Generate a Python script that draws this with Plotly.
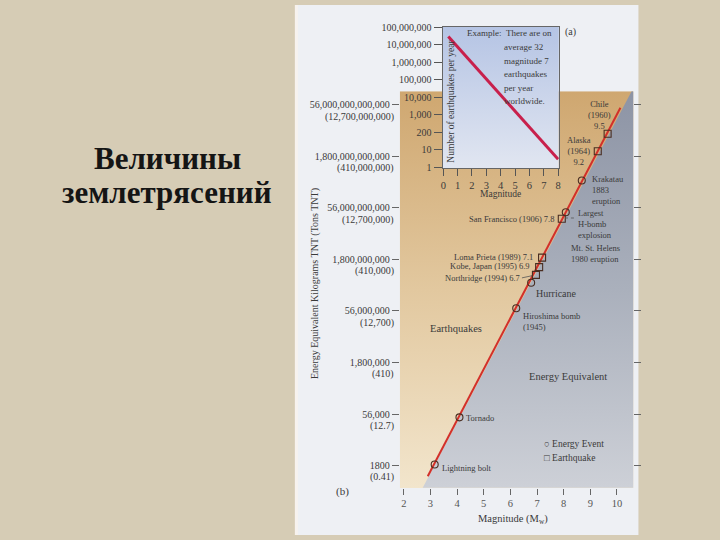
import math
import plotly.graph_objects as go

# ---------------- data ----------------
# main chart (b): magnitude vs energy equivalent
mag_ticks = [2, 3, 4, 5, 6, 7, 8, 9, 10]
energy_tick_vals = [1.8e3, 5.6e4, 1.8e6, 5.6e7, 1.8e9, 5.6e10, 1.8e12, 5.6e13]
energy_tick_kg = ["1800", "56,000", "1,800,000", "56,000,000", "1,800,000,000",
                  "56,000,000,000", "1,800,000,000,000", "56,000,000,000,000"]
energy_tick_tons = ["(0.41)", "(12.7)", "(410)", "(12,700)", "(410,000)",
                    "(12,700,000)", "(410,000,000)", "(12,700,000,000)"]

line_mag = [2.90, 10.13]
line_energy = [8.7e2, 4.6e13]

boundary_mag = [2.71, 10.55]          # edge of the grey "energy equivalent" zone
boundary_energy = [4.0e2, 1.38e14]

event_names = ["Lightning bolt", "Tornado", "Hiroshima bomb<br>(1945)", "Hurricane",
               "Northridge (1994) 6.7", "Kobe, Japan (1995) 6.9", "Loma Prieta (1989) 7.1",
               "San Francisco (1906) 7.8", "Largest<br>H-bomb<br>explosion",
               "Mt. St. Helens<br>1980 eruption", "Krakatau<br>1883<br>eruption",
               "Alaska<br>(1964)<br>9.2", "Chile<br>(1960)<br>9.5"]
event_mag = [3.16, 4.09, 6.22, 6.78, 6.96, 7.08, 7.19, 7.93, 8.08, 8.01, 8.68, 9.28, 9.65]
event_energy = [1.9e3, 4.5e4, 6.7e7, 3.7e8, 6.3e8, 1.06e9, 2.0e9, 2.7e10, 4.2e10, 2.85e10,
                3.5e11, 2.5e12, 8.1e12]
event_kind = ["event", "event", "event", "event", "quake", "quake", "quake", "quake",
              "event", "none", "event", "quake", "quake"]

# inset (a): number of earthquakes per year
freq_mag_ticks = [0, 1, 2, 3, 4, 5, 6, 7, 8]
freq_tick_vals = [1, 10, 100, 1e3, 1e4, 1e5, 1e6, 1e7, 1e8]
freq_tick_text = ["1", "10", "200", "1,000", "10,000", "100,000", "1,000,000",
                  "10,000,000", "100,000,000"]
freq_line_mag = [0.35, 8.0]
freq_line_count = [3.0e7, 2.8]

example_lines = ["There are on", "average 32", "magnitude 7", "earthquakes",
                 "per year", "worldwide."]

# ---------------- styling helpers ----------------
W, H = 720, 540
def px(x):
    return x / W
def py(y):
    return 1 - y / H

SERIF = "Liberation Serif, Times New Roman, serif"
TXT = "#3a3a3a"

x_lo, x_hi = 1.85, 10.62
logE_lo, logE_hi = 2.60, 14.14
fx_lo, fx_hi = -0.05, 8.05
flog_lo, flog_hi = -0.05, 8.05

fig = go.Figure()

# tan background of main plot
fig.add_trace(go.Scatter(
    x=[x_lo, x_hi, x_hi, x_lo], y=[10**logE_lo, 10**logE_lo, 10**logE_hi, 10**logE_hi],
    mode="lines", fill="toself", line=dict(width=0),
    fillgradient=dict(type="vertical", colorscale=[[0, "#f2e5cc"], [0.5, "#e2c89f"], [1, "#cfa770"]]),
    hoverinfo="skip", showlegend=False))

# grey energy-equivalent zone
fig.add_trace(go.Scatter(
    x=[boundary_mag[0], boundary_mag[1], x_hi, x_hi],
    y=[boundary_energy[0], boundary_energy[1], boundary_energy[1], boundary_energy[0]],
    mode="lines", fill="toself", line=dict(width=0),
    fillgradient=dict(type="vertical", colorscale=[[0, "#cdd0d7"], [0.5, "#aab0bc"], [1, "#8d94a5"]]),
    hoverinfo="skip", showlegend=False))

# red magnitude-energy line
fig.add_trace(go.Scatter(x=line_mag, y=line_energy, mode="lines",
                         line=dict(color="#d2302a", width=2), showlegend=False))

# markers
for kind, sym in [("event", "circle-open"), ("quake", "square-open")]:
    xs = [m for m, k in zip(event_mag, event_kind) if k == kind]
    ys = [e for e, k in zip(event_energy, event_kind) if k == kind]
    fig.add_trace(go.Scatter(x=xs, y=ys, mode="markers",
                             marker=dict(symbol=sym, size=7, color="#4a2e22",
                                         line=dict(width=1.1, color="#4a2e22")),
                             showlegend=False))

# inset background
fig.add_trace(go.Scatter(
    x=[fx_lo, fx_hi, fx_hi, fx_lo], y=[10**flog_lo, 10**flog_lo, 10**flog_hi, 10**flog_hi],
    mode="lines", fill="toself", line=dict(width=0),
    fillgradient=dict(type="vertical", colorscale=[[0, "#e1e6f1"], [1, "#b5c4e4"]]),
    xaxis="x2", yaxis="y2", hoverinfo="skip", showlegend=False))

fig.add_trace(go.Scatter(x=freq_line_mag, y=freq_line_count, mode="lines",
                         line=dict(color="#c8204c", width=3),
                         xaxis="x2", yaxis="y2", showlegend=False))

annotations = []

def note(x, y, text, size, xa="center", ya="middle", color=TXT, **kw):
    d = dict(xref="paper", yref="paper", x=px(x), y=py(y), text=text, showarrow=False,
             xanchor=xa, yanchor=ya, font=dict(family=SERIF, size=size, color=color))
    d.update(kw)
    annotations.append(d)

# title on slide
note(166, 156, "<b>Величины</b>", 31, color="#151515")
note(166, 191, "<b>землетрясений</b>", 31, color="#151515")

# second lines (tons) of main y tick labels
for v, t in zip(energy_tick_vals, energy_tick_tons):
    annotations.append(dict(xref="paper", yref="y", x=px(396), y=math.log10(v), yshift=-12,
                            xanchor="right", yanchor="middle", text=t, showarrow=False,
                            font=dict(family=SERIF, size=10, color=TXT)))

# event labels: (xanchor, xshift, yshift)
label_style = [
    ("left", 5, -3),
    ("left", 5, -1),
    ("left", 5, -13),
    ("left", 3, -11),
    None,
    ("right", -7, 1),
    ("right", -7, 1),
    ("right", -6, 0),
    ("left", 10, -12),
    ("left", 5, -36),
    ("left", 8, -9),
    ("center", -19, 0),
    ("center", -8, 19),
]
for name, m, e, st in zip(event_names, event_mag, event_energy, label_style):
    fsize = 10 if name == "Hurricane" else 8.5
    if st is None:
        annotations.append(dict(x=m, y=math.log10(e), xref="x", yref="y", text=name,
                                showarrow=True, arrowhead=0, arrowwidth=0.8, arrowcolor="#555",
                                ax=-14, ay=3, standoff=4, xanchor="right", yanchor="middle",
                                font=dict(family=SERIF, size=fsize, color=TXT)))
    else:
        xa, xs, ys = st
        annotations.append(dict(x=m, y=math.log10(e), xref="x", yref="y", text=name,
                                showarrow=False, xanchor=xa, yanchor="middle", xshift=xs, yshift=ys,
                                align="center" if xa == "center" else "left",
                                font=dict(family=SERIF, size=fsize, color=TXT)))

# region labels
annotations.append(dict(x=2.90, y=7.23, xref="x", yref="y", text="Earthquakes", showarrow=False,
                        xanchor="left", yanchor="middle", font=dict(family=SERIF, size=10.5, color=TXT)))
annotations.append(dict(x=6.63, y=5.83, xref="x", yref="y", text="Energy Equivalent", showarrow=False,
                        xanchor="left", yanchor="middle", font=dict(family=SERIF, size=10.5, color=TXT)))

# legend
note(543, 447, "○ Energy Event", 9.5, xa="left")
note(543, 462, "□ Earthquake", 9.5, xa="left")

# axis titles and panel letters
note(314, 284, "Energy Equivalent Kilograms TNT (Tons TNT)", 10, textangle=-90)
note(514, 524, "Magnitude (M<sub>w</sub>)", 10.5)
note(342, 496, "(b)", 11)

# inset texts
note(572, 28, "(a)", 10)
note(501, 193, "Magnitude", 9.5)
note(452, 98, "Number of earthquakes per year", 9.5, textangle=-90)
note(466, 29, "Example:", 9, xa="left")
for i, t in enumerate(example_lines):
    note(505 if i == 0 else 503, 29 + 13.8 * i, t, 9, xa="left")

shapes = [
    # figure panel on the slide
    dict(type="rect", xref="paper", yref="paper", x0=px(296), x1=px(640), y0=0, y1=1,
         fillcolor="#eef0f4", line=dict(width=0), layer="below"),
    dict(type="line", xref="paper", yref="paper", x0=px(296), x1=px(296), y0=0, y1=1,
         line=dict(color="#f7f2ee", width=3), layer="below"),
    # dashed leader for Mt. St. Helens
    dict(type="line", xref="x", yref="y", xsizemode="pixel", ysizemode="pixel",
         xanchor=event_mag[9], yanchor=event_energy[9], x0=1, y0=-2, x1=11, y1=-27,
         line=dict(color="#555", width=0.8, dash="dot")),
]

fig.update_layout(
    width=W, height=H, margin=dict(l=0, r=0, t=0, b=0),
    paper_bgcolor="#d6ccb5", plot_bgcolor="rgba(0,0,0,0)",
    font=dict(family=SERIF, color=TXT),
    showlegend=False,
    annotations=annotations, shapes=shapes,
    xaxis=dict(domain=[px(400), px(635)], range=[x_lo, x_hi], tickvals=mag_ticks,
               ticks="outside", ticklen=6, tickcolor="#666", showgrid=False, zeroline=False,
               showline=False, tickfont=dict(family=SERIF, size=10.5, color="#555"), anchor="y"),
    yaxis=dict(domain=[1 - 492 / H, 1 - 88 / H], type="log", range=[logE_lo, logE_hi],
               tickvals=energy_tick_vals, ticktext=energy_tick_kg, ticks="outside", ticklen=7,
               tickcolor="#666", showgrid=False, zeroline=False, showline=False, mirror="ticks",
               tickfont=dict(family=SERIF, size=10, color=TXT), anchor="x"),
    xaxis2=dict(domain=[px(443), px(560)], range=[fx_lo, fx_hi], tickvals=freq_mag_ticks,
                ticks="outside", ticklen=7, tickcolor="#555", showgrid=False, zeroline=False,
                showline=True, linecolor="#666", linewidth=1, mirror=True,
                tickfont=dict(family=SERIF, size=10.5, color=TXT), anchor="y2"),
    yaxis2=dict(domain=[1 - 166 / H, 1 - 22 / H], type="log", range=[flog_lo, flog_hi],
                tickvals=freq_tick_vals, ticktext=freq_tick_text, ticks="outside", ticklen=8,
                tickcolor="#555", showgrid=False, zeroline=False, showline=True,
                linecolor="#666", linewidth=1, mirror=True,
                tickfont=dict(family=SERIF, size=10, color=TXT), anchor="x2"),
)

fig.write_html("out.html", config={"displayModeBar": False},
               post_script="document.body.style.margin='0px';document.body.style.overflow='hidden';")
